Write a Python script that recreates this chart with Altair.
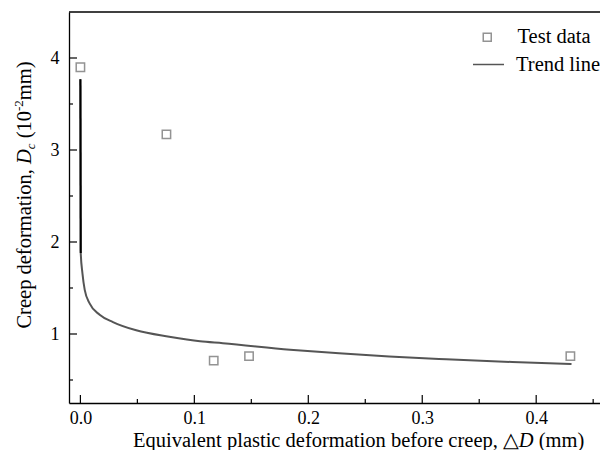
import altair as alt
import pandas as pd

# Test data: equivalent plastic deformation before creep (mm) vs creep deformation (10^-2 mm)
test_dd = [0.0, 0.0755, 0.117, 0.148, 0.430]
test_dc = [3.90, 3.17, 0.71, 0.76, 0.76]

# Trend line
trend_dd = [0.0, 0.0003, 0.0018, 0.0038, 0.0082, 0.0169, 0.0286, 0.049, 0.078,
            0.105, 0.125, 0.184, 0.227, 0.271, 0.321, 0.379, 0.431]
trend_dc = [3.77, 1.88, 1.66, 1.48, 1.33, 1.21, 1.13, 1.04, 0.97,
            0.92, 0.90, 0.83, 0.79, 0.755, 0.725, 0.696, 0.674]

x_major = [0.0, 0.1, 0.2, 0.3, 0.4]
x_minor = [0.05, 0.15, 0.25, 0.35, 0.45]
y_major = [1, 2, 3, 4]
y_minor = [0.5, 1.5, 2.5, 3.5]

W, H = 531, 391
SERIF = "Liberation Serif"
TITLE_SIZE = 20.5
SMALL_SIZE = 13

xs = alt.Scale(domain=[-0.01, 0.456], nice=False, zero=False)
ys = alt.Scale(domain=[0.25, 4.5], nice=False, zero=False)

x_axis = alt.Axis(values=x_major, format=".1f", title=None, ticks=False, grid=False,
                  labelPadding=6, labelFlush=False)
y_axis = alt.Axis(values=y_major, format="d", title=None, ticks=False, grid=False,
                  labelPadding=10, labelFlush=False)

# Times-compatible advance widths (per 1000 em) for laying out rich-text titles
ADV = {" ": 250, "(": 333, ")": 333, ",": 250, "-": 333, "0": 500, "1": 500, "2": 500,
       "C": 667, "D": 722, "E": 611, "a": 444, "b": 500, "c": 444, "d": 500, "e": 444,
       "f": 333, "i": 278, "l": 278, "m": 778, "n": 500, "o": 500, "p": 500, "q": 500,
       "r": 333, "s": 389, "t": 278, "u": 500, "v": 500, "\u25b3": 770}


def adv(s, size):
    return sum(ADV[ch] for ch in s) / 1000 * size


def text_piece(s, x, y, size, angle=0, italic=False, font=SERIF):
    return alt.Chart(pd.DataFrame({"label": [s]})).mark_text(
        align="left", baseline="alphabetic", angle=angle, font=font,
        fontSize=size, fontStyle="italic" if italic else "normal", color="black"
    ).encode(x=alt.value(x), y=alt.value(y), text="label:N")


pts_df = pd.DataFrame({"dd": test_dd, "dc": test_dc, "series": "Test data"})
trend_df = pd.DataFrame({"dd": trend_dd, "dc": trend_dc, "series": "Trend line"})

points = alt.Chart(pts_df).mark_point(
    shape="square", filled=False, size=70, strokeWidth=1.5, color="#666666"
).encode(
    x=alt.X("dd:Q", scale=xs, axis=x_axis),
    y=alt.Y("dc:Q", scale=ys, axis=y_axis),
    shape=alt.Shape("series:N", scale=alt.Scale(domain=["Test data"], range=["square"]),
                    legend=alt.Legend(orient="none", legendX=408, legendY=15, title=None,
                                      labelOffset=20, symbolSize=64, symbolStrokeWidth=1.5,
                                      symbolStrokeColor="#666666")),
)

trend = alt.Chart(trend_df).mark_line(strokeWidth=2, interpolate="monotone").encode(
    x=alt.X("dd:Q", scale=xs, axis=x_axis),
    y=alt.Y("dc:Q", scale=ys, axis=y_axis),
    color=alt.Color("series:N", scale=alt.Scale(domain=["Trend line"], range=["#555555"]),
                    legend=alt.Legend(orient="none", legendX=403, legendY=36, title=None,
                                      symbolType="stroke", symbolSize=961,
                                      symbolStrokeWidth=1.5, labelOffset=11)),
)

# steep initial drop drawn darker
steep = alt.Chart(trend_df.iloc[:2]).mark_line(strokeWidth=2, color="black").encode(
    x=alt.X("dd:Q", scale=xs, axis=x_axis),
    y=alt.Y("dc:Q", scale=ys, axis=y_axis),
)


def x_ticks(vals, length):
    return alt.Chart(pd.DataFrame({"dd": vals})).mark_rule(color="black", strokeWidth=1.2).encode(
        x=alt.X("dd:Q", scale=xs, axis=x_axis), y=alt.value(H), y2=alt.value(H - length))


def y_ticks(vals, length):
    return alt.Chart(pd.DataFrame({"dc": vals})).mark_rule(color="black", strokeWidth=1.2).encode(
        y=alt.Y("dc:Q", scale=ys, axis=y_axis), x=alt.value(0), x2=alt.value(length))


top_border = alt.Chart(pd.DataFrame({"k": [0]})).mark_rule(color="black", strokeWidth=1.3).encode(
    x=alt.value(0), x2=alt.value(W), y=alt.value(0))

# x-axis title: Equivalent plastic deformation before creep, \u25b3D (mm)
xt_y = 435
xt_x = 64
xa = "Equivalent plastic deformation before creep,"
xt_parts = [text_piece(xa, xt_x, xt_y, TITLE_SIZE)]
px = xt_x + adv(xa + " ", TITLE_SIZE)
xt_parts.append(text_piece("\u25b3", px, xt_y, TITLE_SIZE, font="DejaVu Serif"))
px += adv("\u25b3", TITLE_SIZE)
xt_parts.append(text_piece("D", px, xt_y, TITLE_SIZE, italic=True))
px += adv("D ", TITLE_SIZE)
xt_parts.append(text_piece("(mm)", px, xt_y, TITLE_SIZE))

# y-axis title: Creep deformation, D_c (10^-2 mm), read bottom to top
yt_x = -38
pieces = [("Creep deformation,", " ", TITLE_SIZE, False, 0),
          ("D", "", TITLE_SIZE, True, 0),
          ("c", " ", SMALL_SIZE, True, 4),
          ("(10", "", TITLE_SIZE, False, 0),
          ("-2", "", SMALL_SIZE, False, -8),
          ("mm)", "", TITLE_SIZE, False, 0)]
total = sum(adv(s, sz) for s, _, sz, _, _ in pieces) + adv("  ", TITLE_SIZE)
py = 183 + total / 2
yt_parts = []
for s, gap, sz, it, dx in pieces:
    yt_parts.append(text_piece(s, yt_x + dx, py, sz, angle=270, italic=it))
    py -= adv(s, sz) + adv(gap, TITLE_SIZE)

chart = alt.layer(
    top_border,
    x_ticks(x_major, 8), x_ticks(x_minor, 4),
    y_ticks(y_major, 8), y_ticks(y_minor, 4),
    trend, steep, points,
    *xt_parts, *yt_parts,
).properties(
    width=W, height=H,
    autosize=alt.AutoSizeParams(type="none"),
    padding={"left": 69, "top": 12, "right": 0, "bottom": 47},
    background="white",
).resolve_scale(
    color="independent", shape="independent"
).configure_view(
    stroke=None
).configure_axis(
    labelFont=SERIF, labelFontSize=18, labelColor="black",
    domainColor="black", domainWidth=1.3,
).configure_legend(
    labelFont=SERIF, labelFontSize=TITLE_SIZE, labelColor="black", labelLimit=300,
)

chart.save("out.html", embed_options={"renderer": "svg", "actions": False})
